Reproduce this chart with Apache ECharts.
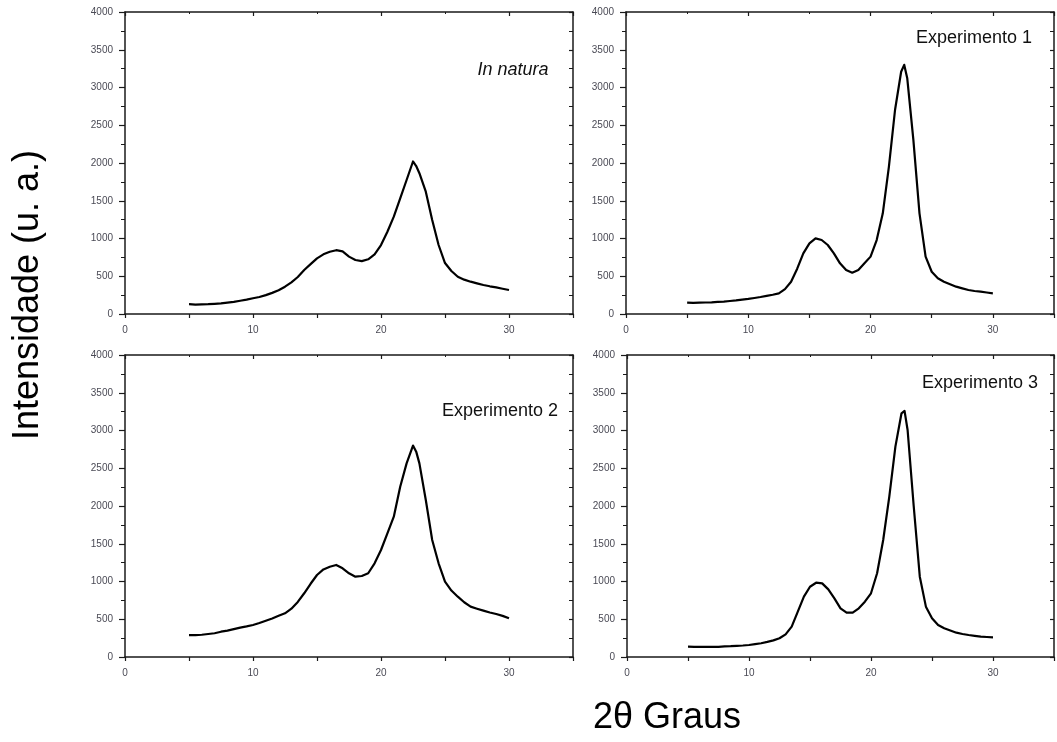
<!DOCTYPE html>
<html>
<head>
<meta charset="utf-8">
<script src="https://cdn.jsdelivr.net/npm/echarts@6/dist/echarts.min.js"></script>
<style>
html,body{margin:0;padding:0;background:#fff;}
#chart{width:1057px;height:742px;}
</style>
</head>
<body>
<div id="chart"></div>
<script>
// 2-theta sample positions (degrees)
const twoTheta = [5,5.5,6,6.5,7,7.5,8,8.5,9,9.5,10,10.5,11,11.5,12,12.5,13,13.5,14,14.5,15,15.5,16,16.5,17,17.5,18,18.5,19,19.5,20,20.5,21,21.5,22,22.5,22.75,23,23.5,24,24.5,25,25.5,26,26.5,27,27.5,28,28.5,29,29.5,30];

// Intensities (u. a.)
const inNatura = [130,125,128,130,135,140,150,160,175,190,208,225,250,280,315,362,420,490,583,660,737,790,825,845,830,760,715,700,725,790,913,1090,1289,1530,1775,2020,1960,1865,1620,1245,914,675,570,494,455,428,405,384,367,353,335,318];
const experimento1 = [150,148,150,152,155,160,165,172,180,190,200,212,225,240,255,274,330,428,600,803,936,1002,980,914,803,671,583,547,583,671,760,980,1333,1951,2702,3209,3300,3122,2305,1333,760,560,473,428,395,362,340,318,305,296,285,274];
const experimento2 = [291,290,295,305,315,335,350,370,390,405,424,450,480,510,545,579,640,730,844,970,1086,1160,1196,1219,1175,1109,1064,1073,1109,1241,1417,1638,1859,2256,2565,2800,2720,2565,2079,1550,1241,997,880,799,725,667,640,614,590,570,545,513];
const experimento3 = [137,133,135,133,135,135,140,143,148,152,159,170,182,200,220,248,300,402,600,799,931,984,975,896,777,645,587,587,645,733,844,1109,1550,2123,2786,3228,3260,3007,2000,1064,667,513,424,380,350,322,305,291,280,269,265,260];

const panelLabels = ['In natura','Experimento 1','Experimento 2','Experimento 3'];
const yTitle = 'Intensidade (u. a.)';
const xTitle = '2\u03B8 Graus';

const xRange = [0, 35];
const yRange = [0, 4000];

const seriesList = [inNatura, experimento1, experimento2, experimento3];

const grids = [
  {left:125, top:12, width:448, height:302},
  {left:626, top:12, width:430, height:302},
  {left:125, top:355, width:448, height:302},
  {left:627, top:355, width:429, height:302}
];

const FONT = '"Liberation Sans", Arial, sans-serif';
const axisColor = '#1a1a1a';
const labelColor = '#4a4a55';

const xAxes = [], yAxes = [], series = [];
grids.forEach((g, i) => {
  xAxes.push({
    type:'value', gridIndex:i, position:'bottom', min:xRange[0], max:xRange[1], interval:5,
    axisLine:{show:true, onZero:false, lineStyle:{color:axisColor, width:1.5}},
    axisTick:{show:true, inside:false, length:4, lineStyle:{color:axisColor, width:1.2}},
    axisLabel:{show:true, margin:11, fontSize:10, fontFamily:FONT, color:labelColor,
      formatter: v => (v % 10 === 0 ? String(v) : '')},
    splitLine:{show:false}
  });
  xAxes.push({
    type:'value', gridIndex:i, position:'top', min:xRange[0], max:xRange[1], interval:10,
    axisLine:{show:true, onZero:false, lineStyle:{color:axisColor, width:1.5}},
    axisTick:{show:true, inside:true, length:4, lineStyle:{color:axisColor, width:1.2}},
    minorTick:{show:true, splitNumber:2, length:2, lineStyle:{color:axisColor, width:1}},
    axisLabel:{show:false}, splitLine:{show:false}
  });
  yAxes.push({
    type:'value', gridIndex:i, position:'left', min:yRange[0], max:yRange[1], interval:500,
    axisLine:{show:true, onZero:false, lineStyle:{color:axisColor, width:1.5}},
    axisTick:{show:true, inside:false, length:6, lineStyle:{color:axisColor, width:1.2}},
    minorTick:{show:true, splitNumber:2, length:4, lineStyle:{color:axisColor, width:1}},
    axisLabel:{show:true, margin:12, fontSize:10, fontFamily:FONT, color:labelColor,
      formatter: v => String(v)},
    splitLine:{show:false}
  });
  yAxes.push({
    type:'value', gridIndex:i, position:'right', min:yRange[0], max:yRange[1], interval:500,
    axisLine:{show:true, onZero:false, lineStyle:{color:axisColor, width:1.5}},
    axisTick:{show:true, inside:true, length:4, lineStyle:{color:axisColor, width:1.2}},
    minorTick:{show:true, splitNumber:2, length:4, lineStyle:{color:axisColor, width:1}},
    axisLabel:{show:false}, splitLine:{show:false}
  });
  series.push({
    type:'line', xAxisIndex:2*i, yAxisIndex:2*i,
    data: twoTheta.map((x, k) => [x, seriesList[i][k]]),
    showSymbol:false, symbol:'none', smooth:false,
    lineStyle:{color:'#000', width:2.2, join:'round'}, silent:true
  });
});

const chart = echarts.init(document.getElementById('chart'), null, {renderer:'canvas'});
chart.setOption({
  animation:false,
  backgroundColor:'#fff',
  grid: grids.map(g => Object.assign({containLabel:false}, g)),
  xAxis: xAxes,
  yAxis: yAxes,
  series: series,
  graphic: [
    {type:'text', x:513, y:70, style:{text:panelLabels[0], font:'italic 18px ' + FONT, fill:'#111', textAlign:'center', textVerticalAlign:'middle'}},
    {type:'text', x:974, y:38, style:{text:panelLabels[1], font:'18px ' + FONT, fill:'#111', textAlign:'center', textVerticalAlign:'middle'}},
    {type:'text', x:500, y:411, style:{text:panelLabels[2], font:'18px ' + FONT, fill:'#111', textAlign:'center', textVerticalAlign:'middle'}},
    {type:'text', x:980, y:383, style:{text:panelLabels[3], font:'18px ' + FONT, fill:'#111', textAlign:'center', textVerticalAlign:'middle'}},
    {type:'text', x:28, y:295, rotation:Math.PI/2, style:{text:yTitle, font:'36px ' + FONT, fill:'#000', textAlign:'center', textVerticalAlign:'middle'}},
    {type:'text', x:667, y:718, style:{text:xTitle, font:'36px ' + FONT, fill:'#000', textAlign:'center', textVerticalAlign:'middle'}}
  ]
});
</script>
</body>
</html>
